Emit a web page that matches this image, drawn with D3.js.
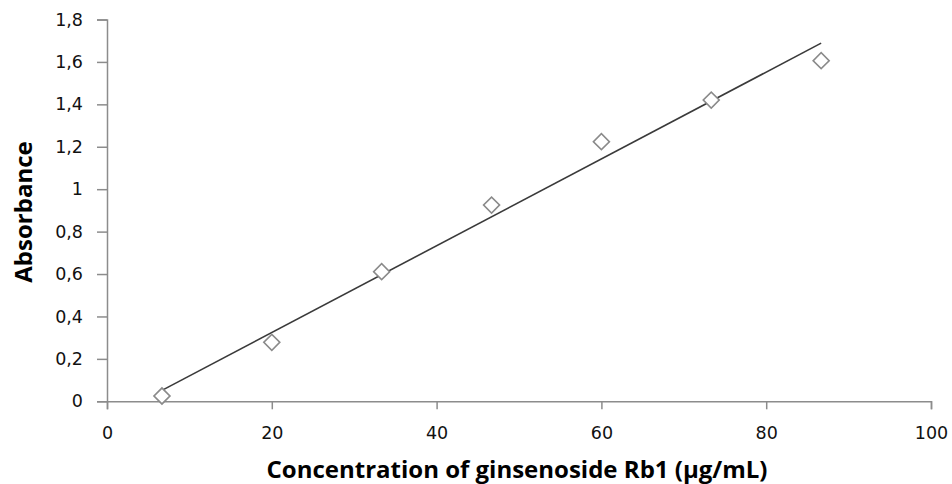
<!DOCTYPE html>
<html>
<head>
<meta charset="utf-8">
<script src="https://cdn.jsdelivr.net/npm/d3@7"></script>
<style>
  html, body { margin: 0; padding: 0; background: #fff; }
  svg { display: block; }
</style>
</head>
<body>
<svg id="chart" width="952" height="484"></svg>
<script>
// Calibration data: ginsenoside Rb1 concentration vs absorbance
const concentration = [6.67, 20, 33.33, 46.67, 60, 73.33, 86.67];
const absorbance = [0.025, 0.278, 0.611, 0.925, 1.224, 1.42, 1.606];
const xTicks = [0, 20, 40, 60, 80, 100];
const yTicks = [0, 0.2, 0.4, 0.6, 0.8, 1, 1.2, 1.4, 1.6, 1.8];

const svg = d3.select("#chart");
const margin = { left: 107, right: 21, top: 19.5, bottom: 82.7 };
const W = 952, H = 484;

const x = d3.scaleLinear().domain([0, 100]).range([margin.left, W - margin.right]);
const y = d3.scaleLinear().domain([0, 1.8]).range([H - margin.bottom, margin.top]);

const fmt = d => String(+d.toFixed(1)).replace(".", ",");
const axisColor = "#8c8c8c";
const tickFont = "'DejaVu Sans', Verdana, sans-serif";

// Y axis
const gy = svg.append("g")
  .attr("transform", `translate(${x(0)},0)`)
  .call(d3.axisLeft(y).tickValues(yTicks).tickFormat(fmt).tickSize(10).tickSizeOuter(10).tickPadding(14));
// X axis
const gx = svg.append("g")
  .attr("transform", `translate(0,${y(0)})`)
  .call(d3.axisBottom(x).tickValues(xTicks).tickFormat(d => d).tickSize(8).tickSizeOuter(8).tickPadding(17));

[gx, gy].forEach(g => {
  g.select(".domain").attr("stroke", axisColor).attr("stroke-width", 1.5);
  g.selectAll(".tick line").attr("stroke", axisColor).attr("stroke-width", 1.5);
  g.selectAll(".tick text")
    .attr("fill", "#111")
    .style("font-family", tickFont)
    .style("font-size", "17.5px");
});

// Linear regression trend line over the data range
const mx = d3.mean(concentration), my = d3.mean(absorbance);
const slope = d3.sum(concentration, (c, i) => (c - mx) * (absorbance[i] - my)) /
              d3.sum(concentration, c => (c - mx) * (c - mx));
const intercept = my - slope * mx;
const [x0, x1] = d3.extent(concentration);
svg.append("line")
  .attr("x1", x(x0)).attr("y1", y(intercept + slope * x0))
  .attr("x2", x(x1)).attr("y2", y(intercept + slope * x1))
  .attr("stroke", "#3a3a3a").attr("stroke-width", 1.6);

// Diamond markers
const diamond = d3.symbol().type(d3.symbolSquare).size(128);
svg.append("g").selectAll("path")
  .data(concentration)
  .join("path")
  .attr("d", diamond)
  .attr("transform", (c, i) => `translate(${x(c)},${y(absorbance[i])}) rotate(45)`)
  .attr("fill", "#fff")
  .attr("stroke", "#8a8a8a")
  .attr("stroke-width", 1.6);

// Axis titles
svg.append("text")
  .attr("x", (263 + 771) / 2).attr("y", 478)
  .attr("text-anchor", "middle")
  .style("font-family", "'Open Sans', sans-serif")
  .style("font-weight", "bold")
  .style("font-size", "24px")
  .attr("fill", "#000")
  .text("Concentration of ginsenoside Rb1 (µg/mL)");

svg.append("text")
  .attr("transform", "translate(32,212) rotate(-90)")
  .attr("text-anchor", "middle")
  .style("font-family", "'Open Sans', sans-serif")
  .style("font-weight", "bold")
  .style("font-size", "24px")
  .attr("fill", "#000")
  .text("Absorbance");
</script>
</body>
</html>
